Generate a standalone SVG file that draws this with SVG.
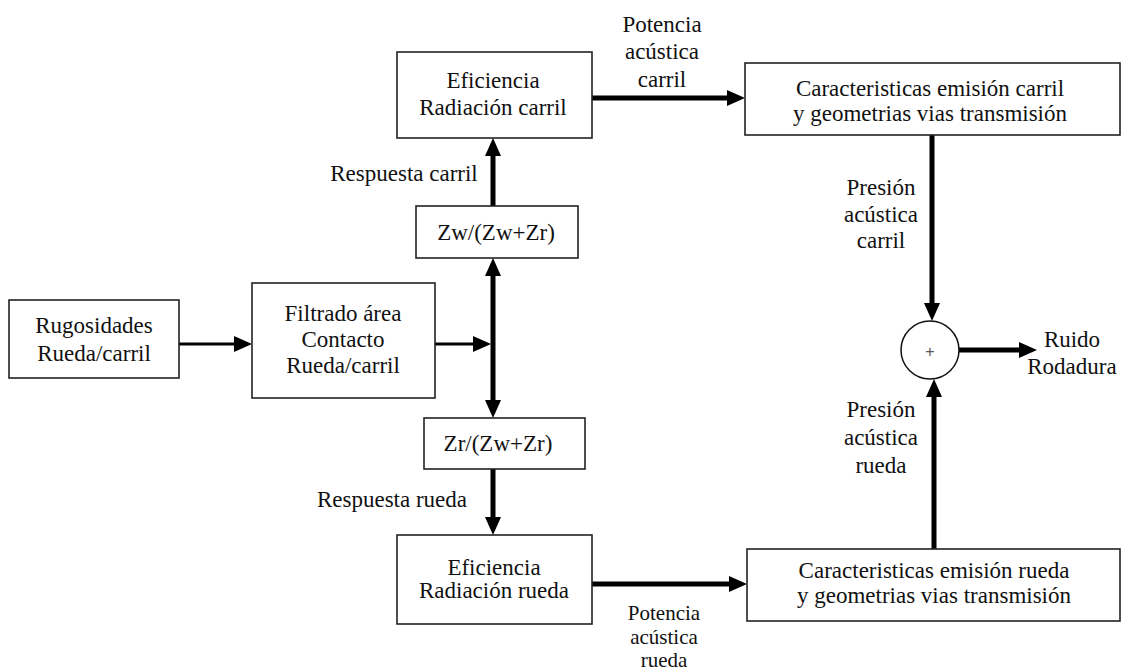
<svg xmlns="http://www.w3.org/2000/svg" width="1121" height="670" viewBox="0 0 1121 670">
<defs>
<style>
.box{fill:#fff;stroke:#222;stroke-width:1.6}
.t{font-family:"Liberation Serif","Times New Roman",serif;font-size:23px;fill:#111;text-anchor:middle}
.s{font-size:21px}
.thick{stroke:#000;stroke-width:5;fill:none}
.thin{stroke:#000;stroke-width:3;fill:none}
</style>
<marker id="ah" markerUnits="userSpaceOnUse" markerWidth="18" markerHeight="16" refX="2" refY="8" orient="auto-start-reverse" viewBox="0 0 18 16">
<path d="M0,0 L18,8 L0,16 z" fill="#000"/>
</marker>
</defs>
<rect width="1121" height="670" fill="#fff"/>

<g id="connectors">
<line class="thin" x1="179" y1="344" x2="236" y2="344" marker-end="url(#ah)"/>
<line class="thin" x1="435" y1="344" x2="475" y2="344" marker-end="url(#ah)"/>
<line class="thick" x1="493" y1="274" x2="493" y2="402" marker-start="url(#ah)" marker-end="url(#ah)"/>
<line class="thick" x1="493" y1="206" x2="493" y2="154" marker-end="url(#ah)"/>
<line class="thick" x1="493" y1="469" x2="493" y2="519" marker-end="url(#ah)"/>
<line class="thick" x1="592" y1="98" x2="729" y2="98" marker-end="url(#ah)"/>
<line class="thick" x1="592" y1="584" x2="731" y2="584" marker-end="url(#ah)"/>
<line class="thick" x1="932" y1="135" x2="932" y2="305" marker-end="url(#ah)"/>
<line class="thick" x1="934" y1="549" x2="934" y2="395" marker-end="url(#ah)"/>
<line class="thick" x1="959" y1="350" x2="1021" y2="350" marker-end="url(#ah)"/>
</g>

<g id="rugosidades">
<rect class="box" x="9" y="300" width="170" height="78"/>
<text class="t" x="94" y="333">Rugosidades</text>
<text class="t" x="94" y="361">Rueda/carril</text>
</g>

<g id="filtrado">
<rect class="box" x="252" y="283" width="183" height="115"/>
<text class="t" x="343" y="321">Filtrado área</text>
<text class="t" x="343" y="347">Contacto</text>
<text class="t" x="343" y="373">Rueda/carril</text>
</g>

<g id="zw">
<rect class="box" x="416" y="206" width="162" height="52"/>
<text class="t" x="496" y="240">Zw/(Zw+Zr)</text>
</g>

<g id="zr">
<rect class="box" x="424" y="418" width="161" height="51"/>
<text class="t" x="498" y="451">Zr/(Zw+Zr)</text>
</g>

<g id="ef-carril">
<rect class="box" x="397" y="52" width="195" height="86"/>
<text class="t" x="493" y="88">Eficiencia</text>
<text class="t" x="493" y="115">Radiación carril</text>
</g>

<g id="ef-rueda">
<rect class="box" x="397" y="535" width="195" height="89"/>
<text class="t" x="494" y="575">Eficiencia</text>
<text class="t" x="494" y="598">Radiación rueda</text>
</g>

<g id="car-carril">
<rect class="box" x="745" y="63" width="375" height="72"/>
<text class="t" x="930" y="96">Caracteristicas emisión carril</text>
<text class="t" x="930" y="121">y geometrias vias transmisión</text>
</g>

<g id="car-rueda">
<rect class="box" x="747" y="549" width="373" height="72"/>
<text class="t" x="934" y="578">Caracteristicas emisión rueda</text>
<text class="t" x="934" y="603">y geometrias vias transmisión</text>
</g>

<g id="suma">
<circle cx="930" cy="350" r="29" fill="#fff" stroke="#111" stroke-width="1.5"/>
<text x="930" y="357" style="font-family:'Liberation Sans',sans-serif;font-size:16px;fill:#555;text-anchor:middle">+</text>
</g>

<g id="labels">
<text class="t" x="662" y="32">Potencia</text>
<text class="t" x="662" y="59">acústica</text>
<text class="t" x="662" y="87">carril</text>
<text class="t" x="404" y="181">Respuesta carril</text>
<text class="t" x="392" y="507">Respuesta rueda</text>
<text class="t s" x="664" y="620">Potencia</text>
<text class="t s" x="664" y="644">acústica</text>
<text class="t s" x="664" y="667">rueda</text>
<text class="t" x="881" y="195">Presión</text>
<text class="t" x="881" y="222">acústica</text>
<text class="t" x="881" y="248">carril</text>
<text class="t" x="881" y="417">Presión</text>
<text class="t" x="881" y="445">acústica</text>
<text class="t" x="881" y="473">rueda</text>
<text class="t" x="1072" y="347">Ruido</text>
<text class="t" x="1072" y="374">Rodadura</text>
</g>
</svg>
